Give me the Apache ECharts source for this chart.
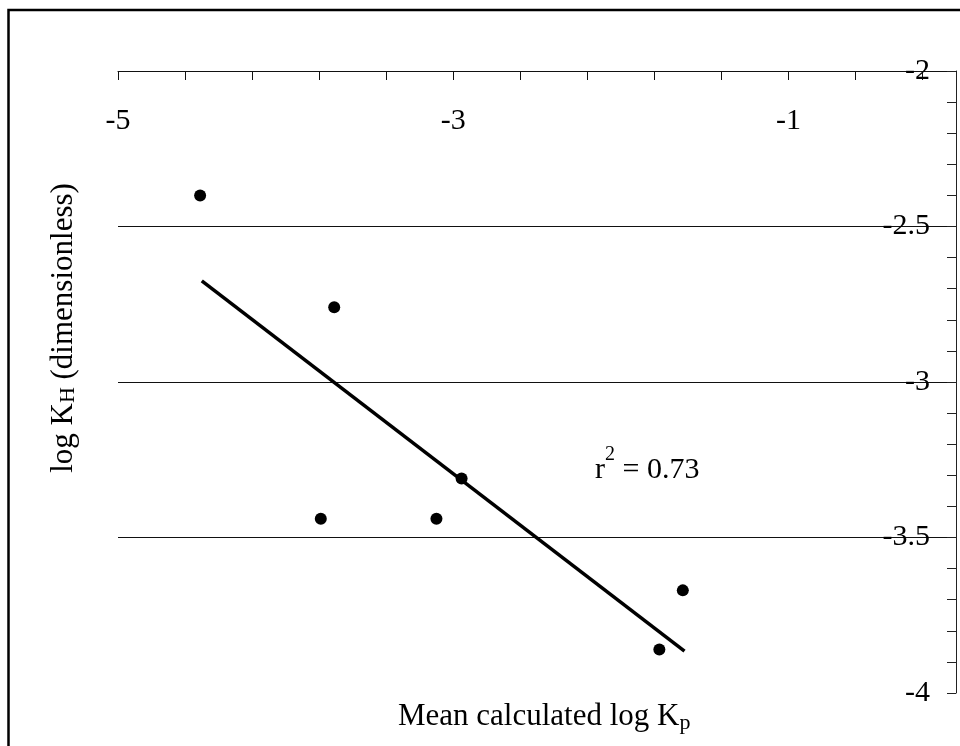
<!DOCTYPE html>
<html>
<head>
<meta charset="utf-8">
<script src="https://cdn.jsdelivr.net/npm/echarts@6/dist/echarts.min.js"></script>
<style>
html,body{margin:0;padding:0;background:#fff;}
#chart{width:960px;height:746px;}
</style>
</head>
<body>
<div id="chart"></div>
<script>
// Observed data: mean calculated log Kp vs log KH
const obsX = [-4.51, -3.71, -3.79, -3.10, -2.95, -1.63, -1.77];
const obsY = [-2.40, -2.76, -3.44, -3.44, -3.31, -3.67, -3.86];
// Regression line end points
const regX = [-4.50, -1.62];
const regY = [-2.675, -3.865];
// Axis ticks / labels
const xTicks = [-5, -4.6, -4.2, -3.8, -3.4, -3, -2.6, -2.2, -1.8, -1.4, -1, -0.6, -0.2];
const xLabels = [-5, -3, -1];
const yTicks = [-4, -3.9, -3.8, -3.7, -3.6, -3.5, -3.4, -3.3, -3.2, -3.1, -3, -2.9, -2.8, -2.7, -2.6, -2.5, -2.4, -2.3, -2.2, -2.1, -2];
const yLabels = [-2, -2.5, -3, -3.5, -4];

const FONT = '"Liberation Serif","Times New Roman",serif';

const chart = echarts.init(document.getElementById('chart'), null, {renderer: 'canvas'});

const option = {
  backgroundColor: '#fff',
  animation: false,
  grid: {left: 118, right: 4, top: 71, bottom: 53, containLabel: false},
  xAxis: {
    type: 'value',
    position: 'top',
    min: -5,
    max: 0,
    axisLine: {show: true, onZero: false, lineStyle: {color: '#111', width: 1}},
    axisTick: {show: true, inside: true, length: 9, customValues: xTicks, lineStyle: {color: '#111', width: 1}},
    axisLabel: {
      show: true, inside: true, margin: 35, customValues: xLabels,
      fontFamily: FONT, fontSize: 30, color: '#000',
      formatter: v => String(v)
    },
    splitLine: {show: false}
  },
  yAxis: [
    {
      type: 'value',
      position: 'right',
      min: -4,
      max: -2,
      interval: 0.5,
      axisLine: {show: true, onZero: false, lineStyle: {color: '#222', width: 1}},
      axisTick: {show: true, inside: true, length: 9, customValues: yTicks, lineStyle: {color: '#222', width: 1}},
      axisLabel: {
        show: true, inside: true, margin: 26, customValues: yLabels,
        fontFamily: FONT, fontSize: 30, color: '#000',
        formatter: v => String(v)
      },
      splitLine: {show: false}
    },
    {
      type: 'value',
      position: 'right',
      min: -4,
      max: -2,
      interval: 0.5,
      axisLine: {show: false},
      axisTick: {show: false},
      axisLabel: {show: false},
      splitLine: {show: true, showMinLine: false, showMaxLine: false, lineStyle: {color: '#111', width: 1}}
    }
  ],
  series: [
    {
      type: 'line',
      yAxisIndex: 0,
      data: regX.map((x, i) => [x, regY[i]]),
      showSymbol: false,
      symbol: 'none',
      lineStyle: {color: '#000', width: 3.5},
      z: 2
    },
    {
      type: 'scatter',
      yAxisIndex: 0,
      data: obsX.map((x, i) => [x, obsY[i]]),
      symbol: 'circle',
      symbolSize: 12,
      itemStyle: {color: '#000', opacity: 1},
      z: 3
    }
  ],
  graphic: [
    {
      type: 'rect',
      shape: {x: 8.5, y: 10, width: 1000, height: 1000},
      style: {fill: 'none', stroke: '#000', lineWidth: 2.5},
      silent: true
    },
    {
      type: 'text',
      left: 398, top: 701,
      style: {
        text: '{a|Mean calculated log K}{b|p}',
        rich: {
          a: {fontFamily: FONT, fontSize: 31, lineHeight: 36, color: '#000', verticalAlign: 'middle'},
          b: {fontFamily: FONT, fontSize: 22, lineHeight: 22, color: '#000', verticalAlign: 'bottom'}
        }
      }
    },
    {
      type: 'text',
      x: 64, y: 328,
      rotation: Math.PI / 2,
      style: {
        text: '{a|log K}{b|H}{a| (dimensionless)}',
        align: 'center',
        verticalAlign: 'middle',
        rich: {
          a: {fontFamily: FONT, fontSize: 31, lineHeight: 31, color: '#000', verticalAlign: 'bottom'},
          b: {fontFamily: FONT, fontSize: 22, lineHeight: 22, color: '#000', verticalAlign: 'bottom'}
        }
      }
    },
    {
      type: 'text',
      left: 595, top: 445,
      style: {
        text: '{a|r}{s|2}{a| = 0.73}',
        rich: {
          a: {fontFamily: FONT, fontSize: 30, lineHeight: 50, color: '#000', verticalAlign: 'middle'},
          s: {fontFamily: FONT, fontSize: 20, lineHeight: 20, color: '#000', verticalAlign: 'top'}
        }
      }
    }
  ]
};

chart.setOption(option);
</script>
</body>
</html>
